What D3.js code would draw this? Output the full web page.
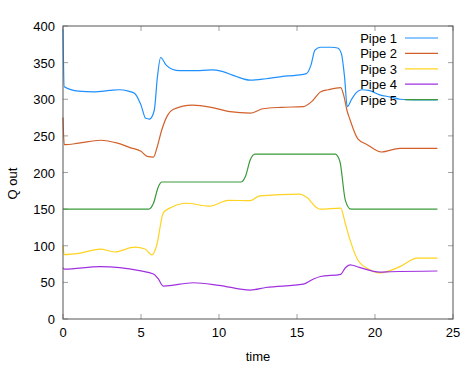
<!DOCTYPE html>
<html>
<head>
<meta charset="utf-8">
<script src="https://cdn.jsdelivr.net/npm/d3@7"></script>
<style>
  body { margin: 0; background: #fff; }
  svg { font-family: "Liberation Sans", Arial, sans-serif; }
</style>
</head>
<body>
<div id="chart"></div>
<script>
// series names and colours
const names = ["Pipe 1", "Pipe 2", "Pipe 3", "Pipe 4", "Pipe 5"];
const colors = ["#1e90ff", "#d2602a", "#ffd320", "#a030e0", "#3a9a3a"];

// time points and values, one pair of arrays per pipe
const t1 = [0, 0.08, 1, 2, 3, 3.6, 4.2, 4.6, 5, 5.3, 5.55, 5.85, 6.05, 6.26, 6.6, 7.0, 7.5, 8.5, 9.5, 10.2, 11, 12, 13, 14, 15, 15.6, 15.9, 16.15, 16.5, 17.2, 17.6, 17.85, 18.05, 18.22, 18.5, 18.8, 19.15, 19.6, 20.3, 21.0, 21.6, 22.5, 24];
const q1 = [395, 317, 311, 310, 312, 313, 311, 308, 292, 274, 273, 285, 330, 357, 347, 341, 339, 339, 340, 338, 332, 326, 328, 331, 333, 335, 347, 367, 371, 371, 370, 362, 330, 290, 300, 309, 313, 312, 306, 303, 300, 299, 299];

const t2 = [0, 0.08, 1, 2.4, 3.5, 4.3, 5.0, 5.4, 5.8, 6.0, 6.33, 6.7, 7.05, 8.3, 9.5, 10.7, 12, 12.8, 14, 15.4, 16, 16.5, 17, 17.8, 18.0, 18.2, 18.4, 18.9, 19.5, 20.4, 21.6, 24];
const q2 = [275, 238, 240, 244, 240, 234, 229, 222, 221, 232, 258, 278, 286, 292, 289, 283, 281, 287, 289, 290, 298, 310, 313, 316, 305, 285, 272, 246, 238, 228, 233, 233];

const t3 = [0, 0.08, 1.1, 2.4, 3.3, 4.6, 5.26, 5.7, 6.0, 6.43, 7.0, 7.9, 9.4, 10.6, 12, 12.6, 15.2, 15.6, 16.3, 16.5, 17.8, 18.1, 18.4, 18.9, 19.6, 20.3, 21.6, 22.7, 24];
const q3 = [100, 88, 90, 95.5, 91.5, 98, 95.5, 87.5, 100, 145, 153, 158, 154, 162, 161.5, 168, 170.5, 166.5, 151.5, 150, 151.5, 130, 108, 80.5, 68, 63, 71.5, 83, 83];

const t4 = [0, 0.08, 2.4, 4.9, 5.8, 6.1, 6.43, 8.35, 10, 12, 13, 15.4, 16.0, 16.5, 17.8, 18.1, 18.4, 19.0, 20.3, 21, 24];
const q4 = [70, 68, 71.5, 66, 61.5, 55, 45, 49.5, 46, 39.5, 43, 47.5, 54, 58, 61, 70, 74, 70.5, 64, 64.5, 65.5];

const t5 = [0, 5.5, 5.8, 6.1, 6.35, 11.4, 11.7, 12.0, 12.3, 17.45, 17.75, 18.1, 18.45, 24];
const q5 = [150, 150, 158, 180, 187, 187, 195, 217, 225, 225, 215, 162, 150, 150];

const times = [t1, t2, t3, t4, t5];
const flows = [q1, q2, q3, q4, q5];

const xTicks = [0, 5, 10, 15, 20, 25];
const yTicks = [0, 50, 100, 150, 200, 250, 300, 350, 400];

const width = 475, height = 380;
const margin = { top: 26, right: 22, bottom: 61, left: 63 };
const innerW = width - margin.left - margin.right;
const innerH = height - margin.top - margin.bottom;

const x = d3.scaleLinear().domain([0, 25]).range([margin.left, margin.left + innerW]);
const y = d3.scaleLinear().domain([0, 400]).range([margin.top + innerH, margin.top]);

const svg = d3.select('#chart')
    .append('svg')
    .attr('width', width)
    .attr('height', height);

// inward ticks on all four sides
const tickLen = 5;
const ticks = svg.append('g').attr('stroke', '#a0a0a0').attr('stroke-width', 1);
xTicks.forEach(v => {
    ticks.append('line').attr('x1', x(v)).attr('x2', x(v)).attr('y1', y(0)).attr('y2', y(0) - tickLen);
    ticks.append('line').attr('x1', x(v)).attr('x2', x(v)).attr('y1', y(400)).attr('y2', y(400) + tickLen);
});
yTicks.forEach(v => {
    ticks.append('line').attr('x1', x(0)).attr('x2', x(0) + tickLen).attr('y1', y(v)).attr('y2', y(v));
    ticks.append('line').attr('x1', x(25)).attr('x2', x(25) - tickLen).attr('y1', y(v)).attr('y2', y(v));
});

// tick labels
svg.append('g').selectAll('text')
    .data(xTicks).enter()
    .append('text')
    .attr('x', d => x(d))
    .attr('y', y(0) + 18)
    .attr('text-anchor', 'middle')
    .attr('font-size', '13px')
    .attr('fill', '#000')
    .text(d => d);

svg.append('g').selectAll('text')
    .data(yTicks).enter()
    .append('text')
    .attr('x', x(0) - 8)
    .attr('y', d => y(d) + 5)
    .attr('text-anchor', 'end')
    .attr('font-size', '13px')
    .attr('fill', '#000')
    .text(d => d);

// axis titles
svg.append('text')
    .attr('x', x(12.5))
    .attr('y', y(0) + 42)
    .attr('text-anchor', 'middle')
    .attr('font-size', '13px')
    .text('time');

svg.append('text')
    .attr('transform', 'translate(17,' + y(185) + ') rotate(-90)')
    .attr('text-anchor', 'middle')
    .attr('font-size', '13px')
    .text('Q out');

// the lines
const line = d3.line()
    .x(d => x(d[0]))
    .y(d => y(d[1]))
    .curve(d3.curveMonotoneX);

svg.append('g').selectAll('path')
    .data(names.map((n, i) => times[i].map((t, j) => [t, flows[i][j]])))
    .enter()
    .append('path')
    .attr('d', line)
    .attr('fill', 'none')
    .attr('stroke', (d, i) => colors[i])
    .attr('stroke-width', 1.2);

// plot border
svg.append('rect')
    .attr('x', x(0))
    .attr('y', y(400))
    .attr('width', innerW)
    .attr('height', innerH)
    .attr('fill', 'none')
    .attr('stroke', '#555')
    .attr('stroke-width', 1);

// legend, top right
const legend = svg.append('g');
names.forEach((n, i) => {
    const ly = 38 + i * 15.4;
    legend.append('text')
        .attr('x', 397)
        .attr('y', ly + 5)
        .attr('text-anchor', 'end')
        .attr('font-size', '13px')
        .text(n);
    legend.append('line')
        .attr('x1', 405).attr('x2', 438)
        .attr('y1', ly).attr('y2', ly)
        .attr('stroke', colors[i])
        .attr('stroke-width', 1.2);
});
</script>
</body>
</html>
